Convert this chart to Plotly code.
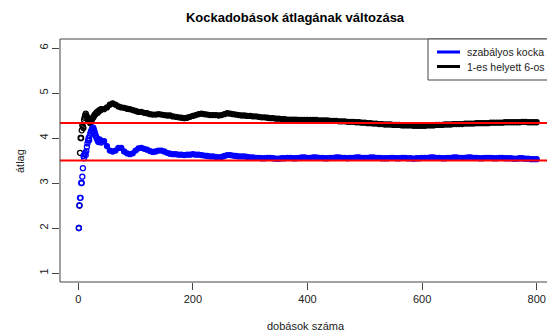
import plotly.graph_objects as go

dobasok = list(range(1, 41)) + list(range(45, 801, 5))

# running mean of a fair die
szabalyos = [
    2.0, 2.5, 2.67, 2.67, 3.0, 3.0, 3.14, 3.33, 3.6, 3.55,
    3.64, 3.67, 3.62, 3.71, 3.8, 3.88, 3.94, 4.0, 3.95, 4.05,
    4.1, 4.14, 4.17, 4.21, 4.2, 4.23, 4.19, 4.15, 4.1, 4.07,
    4.03, 4.0, 3.97, 3.94, 3.91, 3.94, 3.97, 3.95, 3.92, 3.9,
    3.93, 3.82, 3.72, 3.70, 3.72, 3.78, 3.78, 3.70, 3.66, 3.64, 3.66, 3.72,
    3.77, 3.78, 3.76, 3.74, 3.71, 3.69, 3.70, 3.72, 3.72, 3.70, 3.67, 3.65, 3.64, 3.64, 3.63, 3.63, 3.62, 3.63, 3.63, 3.64,
    3.63, 3.63, 3.62, 3.61, 3.60, 3.59, 3.59, 3.58, 3.57, 3.58, 3.60, 3.62, 3.62, 3.61, 3.60, 3.59, 3.59, 3.59, 3.58, 3.57,
    3.57, 3.56, 3.56, 3.55, 3.55, 3.56, 3.56, 3.55, 3.54, 3.54, 3.55, 3.55, 3.56, 3.56, 3.55, 3.55, 3.56, 3.57, 3.57, 3.56,
    3.56, 3.57, 3.57, 3.56, 3.56, 3.55, 3.55, 3.56, 3.56, 3.57, 3.57, 3.56, 3.56, 3.55, 3.56, 3.56, 3.57, 3.57, 3.56, 3.56,
    3.56, 3.57, 3.57, 3.56, 3.56, 3.55, 3.55, 3.55, 3.56, 3.56, 3.55, 3.55, 3.56, 3.56, 3.55, 3.55, 3.54, 3.55, 3.55, 3.56,
    3.56, 3.56, 3.57, 3.57, 3.56, 3.56, 3.55, 3.55, 3.56, 3.56, 3.57, 3.57, 3.56, 3.56, 3.56, 3.57, 3.57, 3.56, 3.56, 3.55,
    3.55, 3.56, 3.56, 3.56, 3.55, 3.55, 3.56, 3.56, 3.55, 3.55, 3.55, 3.54, 3.54, 3.55, 3.55, 3.54, 3.54, 3.53, 3.53, 3.53,
]

# running mean with the 1 replaced by a 6
helyett6 = [
    2.0, 2.5, 3.67, 4.0, 4.0, 4.17, 4.29, 4.25, 4.22, 4.4,
    4.45, 4.5, 4.54, 4.5, 4.47, 4.44, 4.41, 4.39, 4.37, 4.35,
    4.33, 4.36, 4.39, 4.42, 4.44, 4.46, 4.48, 4.5, 4.52, 4.53,
    4.55, 4.56, 4.58, 4.56, 4.59, 4.6, 4.62, 4.61, 4.63, 4.64,
    4.64, 4.68, 4.74, 4.77, 4.74, 4.70, 4.68, 4.67, 4.65, 4.64, 4.62, 4.60,
    4.58, 4.58, 4.56, 4.55, 4.53, 4.52, 4.52, 4.53, 4.52, 4.51, 4.50, 4.50, 4.48, 4.47, 4.46, 4.45, 4.44, 4.45, 4.47, 4.49,
    4.51, 4.53, 4.54, 4.53, 4.52, 4.51, 4.51, 4.51, 4.50, 4.51, 4.53, 4.55, 4.54, 4.53, 4.52, 4.51, 4.50, 4.50, 4.49, 4.49,
    4.48, 4.48, 4.47, 4.46, 4.46, 4.45, 4.44, 4.44, 4.43, 4.43, 4.42, 4.42, 4.41, 4.41, 4.41, 4.41, 4.40, 4.40, 4.40, 4.40,
    4.40, 4.40, 4.40, 4.39, 4.39, 4.39, 4.39, 4.38, 4.38, 4.38, 4.37, 4.37, 4.37, 4.36, 4.36, 4.36, 4.35, 4.35, 4.34, 4.34,
    4.33, 4.33, 4.32, 4.32, 4.31, 4.31, 4.30, 4.30, 4.30, 4.29, 4.29, 4.29, 4.28, 4.28, 4.28, 4.28, 4.27, 4.27, 4.27, 4.27,
    4.27, 4.28, 4.28, 4.28, 4.29, 4.29, 4.29, 4.30, 4.30, 4.30, 4.31, 4.31, 4.31, 4.31, 4.32, 4.32, 4.32, 4.32, 4.33, 4.33,
    4.33, 4.33, 4.33, 4.34, 4.34, 4.34, 4.34, 4.34, 4.35, 4.35, 4.35, 4.35, 4.35, 4.35, 4.36, 4.36, 4.35, 4.35, 4.35, 4.35,
]

# expected values (reference lines)
varhato = [3.5, 26 / 6]

x_ticks = [0, 200, 400, 600, 800]
y_ticks = [1, 2, 3, 4, 5, 6]
legend_labels = ["szabályos kocka", "1-es helyett 6-os"]
legend_colors = ["#0000FF", "#000000"]

W, H = 547, 336
L, T = 60, 39
PW, PH = W - L, 243
B = H - T - PH
x0 = -31.94
x1 = x0 + PW / 0.573
FONT = "Liberation Sans, Arial, sans-serif"

# sparse early throws show as open rings; the dense later run merges into a solid band
symbols = ["circle-open" if n <= 40 else "circle" for n in dobasok]

fig = go.Figure()
fig.add_trace(go.Scatter(
    x=dobasok, y=helyett6, mode="markers", name=legend_labels[1],
    marker=dict(symbol=symbols, size=5, color="#000000", line=dict(width=1.3, color="#000000")),
    showlegend=False))
fig.add_trace(go.Scatter(
    x=dobasok, y=szabalyos, mode="markers", name=legend_labels[0],
    marker=dict(symbol=symbols, size=5, color="#0000FF", line=dict(width=1.3, color="#0000FF")),
    showlegend=False))

shapes = []
for v in varhato:
    shapes.append(dict(type="line", xref="paper", x0=0, x1=1, yref="y", y0=v, y1=v,
                       line=dict(color="#FF0000", width=2), layer="above"))
# plot box (right edge falls outside the picture)
shapes.append(dict(type="rect", xref="paper", yref="paper", x0=0, x1=1.05, y0=0, y1=1,
                   line=dict(color="#444444", width=1), layer="above"))


def px_to_paper_x(px):
    return (px - L) / PW


def py_to_paper_y(py):
    return (T + PH - py) / PH


# legend box (top-right)
shapes.append(dict(type="rect", xref="paper", yref="paper",
                   x0=px_to_paper_x(428), x1=1.05, y0=py_to_paper_y(80), y1=1,
                   line=dict(color="#444444", width=1), fillcolor="white", layer="above"))
annotations = []
for i, (lab, col) in enumerate(zip(legend_labels, legend_colors)):
    yy = 52 + i * 14.5
    shapes.append(dict(type="line", xref="paper", yref="paper",
                       x0=px_to_paper_x(437), x1=px_to_paper_x(460),
                       y0=py_to_paper_y(yy), y1=py_to_paper_y(yy),
                       line=dict(color=col, width=3), layer="above"))
    annotations.append(dict(text=lab, xref="paper", yref="paper",
                            x=px_to_paper_x(465), y=py_to_paper_y(yy),
                            xanchor="left", yanchor="middle", showarrow=False,
                            font=dict(family=FONT, size=10.5, color="#222222")))

annotations.append(dict(text="dobások száma", xref="paper", yref="paper",
                        x=px_to_paper_x(306), y=py_to_paper_y(326),
                        xanchor="center", yanchor="middle", showarrow=False,
                        font=dict(family=FONT, size=11, color="#222222")))
annotations.append(dict(text="átlag", xref="paper", yref="paper",
                        x=px_to_paper_x(20), y=py_to_paper_y(161),
                        xanchor="center", yanchor="middle", showarrow=False, textangle=-90,
                        font=dict(family=FONT, size=11, color="#222222")))

fig.update_layout(
    width=W, height=H, autosize=False,
    margin=dict(l=L, r=0, t=T, b=B, pad=0),
    plot_bgcolor="white", paper_bgcolor="white",
    title=dict(text="<b>Kockadobások átlagának változása</b>", x=295 / W, xanchor="center",
               y=1 - 17 / H, yanchor="middle",
               font=dict(family=FONT, size=13, color="#000000")),
    xaxis=dict(range=[x0, x1], tickvals=x_ticks, ticks="outside", ticklen=7,
               tickcolor="#444444", showgrid=False, zeroline=False, showline=False,
               tickfont=dict(family=FONT, size=11, color="#222222")),
    yaxis=dict(range=[0.8, 6.2], tickvals=y_ticks, ticks="outside", ticklen=7,
               tickcolor="#444444", showgrid=False, zeroline=False, showline=False,
               tickangle=-90,
               tickfont=dict(family=FONT, size=11, color="#222222")),
    shapes=shapes, annotations=annotations,
)

fig.write_html(
    "out.html",
    config={"displayModeBar": False},
    post_script="document.body.style.margin='0';document.body.style.overflow='hidden';",
)
